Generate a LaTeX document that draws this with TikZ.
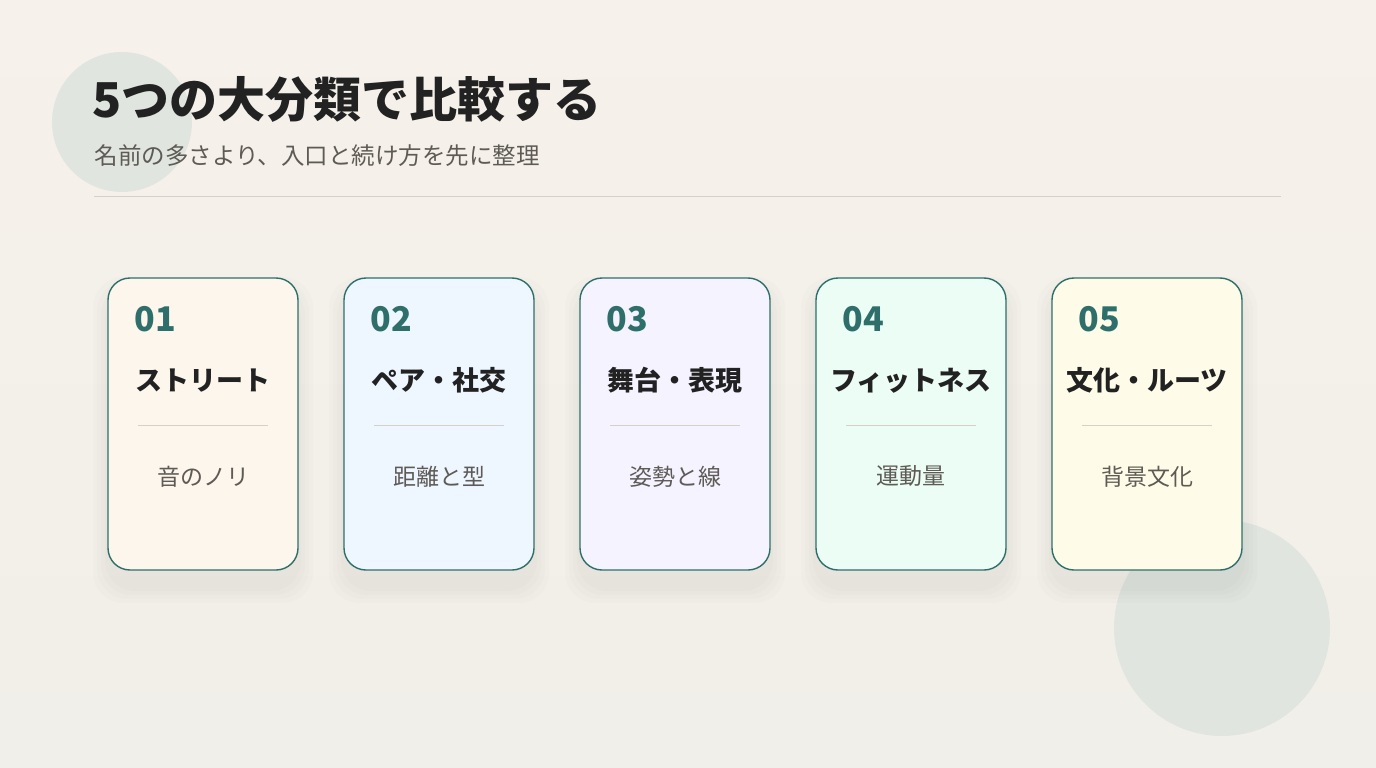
\documentclass[tikz,border=0pt]{standalone}
\usepackage{fontspec}
\setmainfont{Noto Sans CJK JP}
\usetikzlibrary{positioning}
\definecolor{bgA}{HTML}{F6F1EA}
\definecolor{bgB}{HTML}{F1EFE9}
\definecolor{blob}{HTML}{DCE3DD}
\definecolor{teal}{HTML}{2F6F6B}
\definecolor{ink}{HTML}{222222}
\definecolor{muted}{HTML}{5E5A55}
\definecolor{rule}{HTML}{D6D0C6}
\definecolor{cardA}{HTML}{FDF6EC}
\definecolor{cardB}{HTML}{EEF6FF}
\definecolor{cardC}{HTML}{F5F3FF}
\definecolor{cardD}{HTML}{ECFDF5}
\definecolor{cardE}{HTML}{FEFCE8}
\tikzset{
  card/.style={draw=teal, line width=1.4pt, rounded corners=22pt,
    minimum width=190pt, minimum height=292pt, inner sep=0pt},
  cardnum/.style={font=\fontsize{34}{34}\selectfont\bfseries, text=teal, anchor=west},
  cardtitle/.style={font=\fontsize{27}{27}\selectfont\bfseries, text=ink},
  cardsub/.style={font=\fontsize{23}{23}\selectfont, text=muted},
}
\begin{document}
\begin{tikzpicture}[x=1pt, y=-1pt]
  \useasboundingbox (0,0) rectangle (1376,768);
  \shade[top color=bgA, bottom color=bgB] (0,0) rectangle (1376,768);
  \fill[blob, opacity=0.8] (122,122) circle (70);
  \fill[blob, opacity=0.8] (1222,628) circle (108);

  \node[anchor=west, font=\fontsize{48}{48}\selectfont\bfseries, text=ink] (title) at (89,99) {5つの大分類で比較する};
  \node[anchor=west, font=\fontsize{23.5}{23.5}\selectfont, text=muted] (subtitle) at (91,156) {名前の多さより、入口と続け方を先に整理};
  \draw[rule, line width=1pt] (94,196) -- (1281,196);

  \foreach \i/\col/\num/\head/\sub in {0/cardA/01/ストリート/音のノリ, 1/cardB/02/ペア・社交/距離と型,
      2/cardC/03/舞台・表現/姿勢と線, 3/cardD/04/フィットネス/運動量, 4/cardE/05/文化・ルーツ/背景文化} {
    \pgfmathsetmacro{\cx}{203+236*\i}
    % shadow
    \foreach \s in {30,22,14,6} {
      \fill[black, opacity=0.012, rounded corners=30pt] (\cx-95-\s/2,278+14-\s/2) rectangle (\cx+95+\s/2,570+18+\s/2);
    }
    \node[card, fill=\col] (card\i) at (\cx,424) {};
    \node[cardnum] (num\i) at ([xshift=24pt, yshift=-42pt]card\i.north west) {\num};
    \node[cardtitle] (head\i) at ([yshift=-103pt]card\i.north) {\head};
    \draw[rule, line width=1pt] ([xshift=-65pt, yshift=-148pt]card\i.north) -- ([xshift=65pt, yshift=-148pt]card\i.north);
    \node[cardsub] (sub\i) at ([yshift=-199pt]card\i.north) {\sub};
  }
\end{tikzpicture}
\end{document}
